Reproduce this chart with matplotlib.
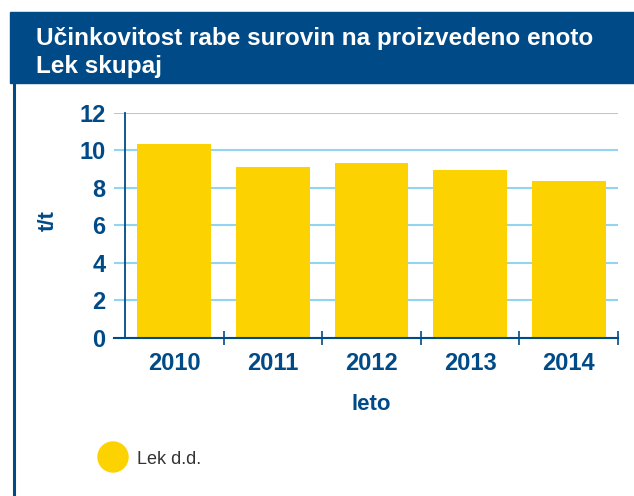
import matplotlib.pyplot as plt
from matplotlib.patches import Rectangle, Ellipse
from matplotlib.lines import Line2D

# donnees
leta = ['2010', '2011', '2012', '2013', '2014']
vrednosti = [10.32, 9.10, 9.31, 8.94, 8.36]
yticks = [0, 2, 4, 6, 8, 10, 12]

modra = '#004B87'
rumena = '#FCD200'
mreza = '#93D5F1'

plt.rcParams['font.family'] = ['Liberation Sans', 'DejaVu Sans']

fig = plt.figure(figsize=(6.34, 4.96), dpi=100)
W, H = 634, 496

# pas du titre
fig.patches.append(Rectangle((10 / W, 1 - 83 / H), 1 - 10 / W, 71 / H,
                             transform=fig.transFigure, color=modra, zorder=0))
fig.lines.append(Line2D([13.5 / W, 13.5 / W], [0, 1 - 83 / H], transform=fig.transFigure,
                        color=modra, lw=2.2))
fig.text(36 / W, 1 - 38 / H, 'Učinkovitost rabe surovin na proizvedeno enoto',
         color='white', fontsize=17.5, fontweight='bold', va='center')
fig.text(36 / W, 1 - 67 / H, 'Lek skupaj',
         color='white', fontsize=17.5, fontweight='bold', va='center')

# axes
x0, x1 = 114, 618
y0, y1 = 337.7, 113
ax = fig.add_axes([x0 / W, 1 - y0 / H, (x1 - x0) / W, (y0 - y1) / H])
pos = list(range(len(leta)))
ax.bar(pos, vrednosti, width=0.75, color=rumena, zorder=2)
ax.set_xlim(-0.5 - 11 / 98.6, 4.5)
ax.set_ylim(0, 12)

for s in ['top', 'right']:
    ax.spines[s].set_visible(False)
ax.spines['left'].set_position(('data', -0.5))
ax.spines['left'].set_color(modra)
ax.spines['left'].set_linewidth(1.3)
ax.spines['bottom'].set_color(modra)
ax.spines['bottom'].set_linewidth(1.5)
ax.spines['bottom'].set_zorder(3)

ax.set_yticks(yticks)
ax.tick_params(axis='y', length=0, pad=14, labelsize=17, labelcolor=modra)
for lab in ax.get_yticklabels():
    lab.set_fontweight('bold')
ax.yaxis.grid(True, color=mreza, lw=1.5, zorder=1)
ax.set_axisbelow(True)

ax.set_xticks([0.5, 1.5, 2.5, 3.5, 4.5])
ax.set_xticklabels([])
ax.tick_params(axis='x', which='major', direction='inout', length=10, width=1.2, color=modra)
ax.set_xticks(pos, minor=True)
ax.set_xticklabels(leta, minor=True)
ax.tick_params(axis='x', which='minor', length=0, pad=10, labelsize=17, labelcolor=modra)
for lab in ax.get_xticklabels(minor=True):
    lab.set_fontweight('bold')

fig.text(371 / W, 1 - 405 / H, 'leto', color=modra,
         fontsize=16, fontweight='bold', ha='center', va='center')
fig.text(48 / W, 1 - 221 / H, 't/t', color=modra, fontsize=16, fontweight='bold',
         ha='center', va='center', rotation=90)

# legende
fig.patches.append(Ellipse((113 / W, 1 - 457 / H), 30 / W, 30 / H,
                           transform=fig.transFigure, color=rumena))
fig.text(137 / W, 1 - 459 / H, 'Lek d.d.', color='#333333', fontsize=13, va='center')

fig.savefig('out.png', dpi=100)
